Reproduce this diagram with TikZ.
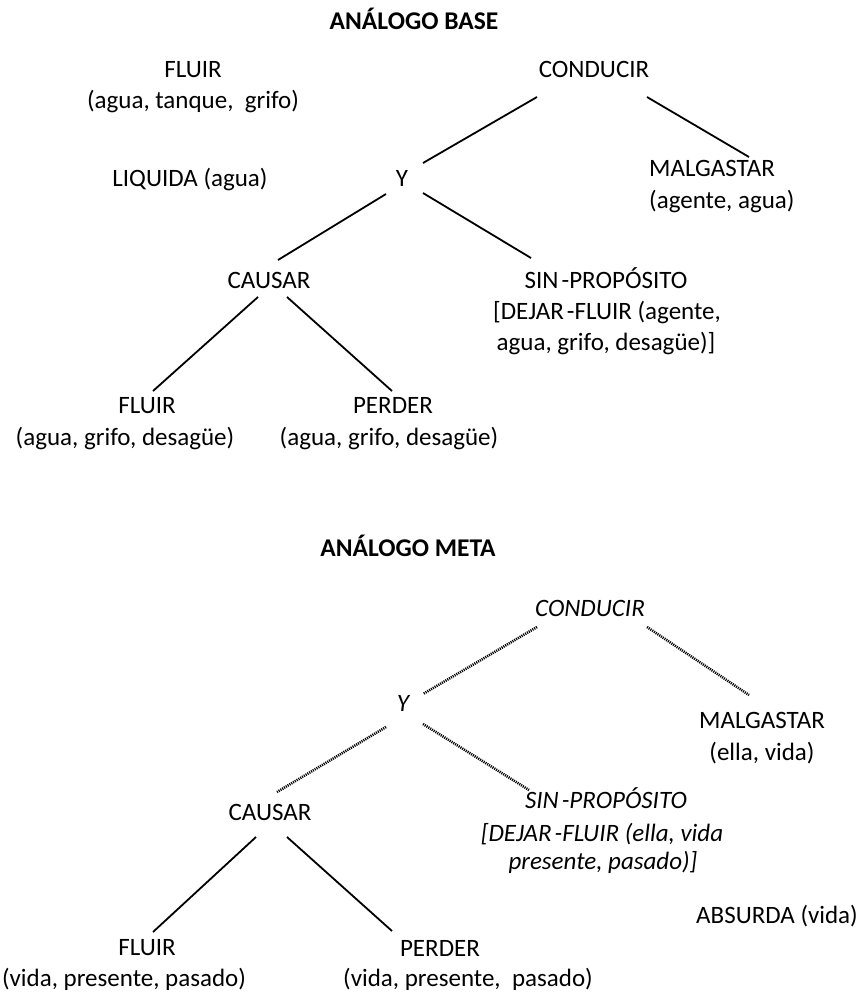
\documentclass[tikz,border=0pt]{standalone}
\usepackage{fontspec}
\setmainfont{Carlito}
\usetikzlibrary{calc}
\tikzset{
  lbl/.style={inner sep=0pt, anchor=center, text height=0.63em, text depth=0pt, font=\fontsize{25}{30}\selectfont},
  lblL/.style={lbl, anchor=west},
  ttl/.style={lbl, font=\fontsize{25.5}{30}\selectfont\bfseries},
  it/.style={lbl, font=\fontsize{25}{30}\selectfont\itshape},
  solidc/.style={line width=1.8pt, black},
  hatchc/.style={line width=2.6pt, black, dash pattern=on 1.1pt off 1pt}
}
\begin{document}
\begin{tikzpicture}[x=1pt,y=-1pt]
\useasboundingbox (0,0) rectangle (861,994);
% ---------- BASE ----------
\node[ttl] (titleB) at (414,26) {ANÁLOGO BASE};
\node[lbl] (fluirA) at (193,74) {FLUIR};
\node[lbl] (fluirAargs) at (193,105) {(agua, tanque,\ \ grifo)};
\node[lbl] (condB) at (594,74) {CONDUCIR};
\node[lbl] (liq) at (190,183) {LIQUIDA (agua)};
\node[lbl] (yB) at (402,183) {Y};
\node[lblL] (malgB) at (649,173) {MALGASTAR};
\node[lblL] (malgBargs) at (649,205) {(agente, agua)};
\node[lbl] (causB) at (269,285) {CAUSAR};
\node[lbl] (sinB) at (606,285) {SIN\kern3pt-PROPÓSITO};
\node[lbl] (dejB) at (607,316) {[DEJAR\kern3pt-FLUIR (agente,};
\node[lbl] (aguaB) at (606,347) {agua, grifo, desagüe)]};
\node[lbl] (fluirB) at (147,410) {FLUIR};
\node[lbl] (fluirBargs) at (125,442) {(agua, grifo, desagüe)};
\node[lbl] (perdB) at (393,410) {PERDER};
\node[lbl] (perdBargs) at (389,442) {(agua, grifo, desagüe)};
\draw[solidc] ($(condB)+(-57,23)$) -- ($(yB)+(21,-20)$);
\draw[solidc] ($(condB)+(53,23)$) -- ($(malgB.west)+(100,-16)$);
\draw[solidc] ($(yB)+(-16,11)$) -- ($(causB)+(9,-25)$);
\draw[solidc] ($(yB)+(21,10)$) -- ($(sinB)+(-75,-27)$);
\draw[solidc] ($(causB)+(-11,12)$) -- ($(fluirB)+(6,-19)$);
\draw[solidc] ($(causB)+(18,12)$) -- ($(perdB)+(-1,-19)$);
% ---------- META ----------
\node[ttl] (titleM) at (408,553) {ANÁLOGO META};
\node[it] (condM) at (590,613) {CONDUCIR};
\node[it] (yM) at (403,708) {Y};
\node[lbl] (malgM) at (762,725) {MALGASTAR};
\node[lbl] (malgMargs) at (762,757) {(ella, vida)};
\node[lbl] (causM) at (270,817) {CAUSAR};
\node[it] (sinM) at (606,805) {SIN\kern3pt-PROPÓSITO};
\node[it] (dejM) at (602,838) {[DEJAR\kern3pt-FLUIR (ella, vida};
\node[it] (presM) at (603,866) {presente, pasado)]};
\node[lbl] (absurda) at (777,920) {ABSURDA (vida)};
\node[lbl] (fluirM) at (147,952) {FLUIR};
\node[lbl] (fluirMargs) at (124,983) {(vida, presente, pasado)};
\node[lbl] (perdM) at (440,953) {PERDER};
\node[lbl] (perdMargs) at (468,983) {(vida, presente,\ \ pasado)};
\draw[hatchc] ($(condM)+(-53,14)$) -- ($(yM)+(20,-14)$);
\draw[hatchc] ($(condM)+(57,14)$) -- ($(malgM)+(-13,-30)$);
\draw[hatchc] ($(yM)+(-17,19)$) -- ($(causM)+(7,-25)$);
\draw[hatchc] ($(yM)+(20,16)$) -- ($(sinM)+(-77,-15)$);
\draw[solidc] ($(causM)+(-14,20)$) -- ($(fluirM)+(6,-20)$);
\draw[solidc] ($(causM)+(17,20)$) -- ($(perdM)+(-48,-22)$);
\end{tikzpicture}
\end{document}
